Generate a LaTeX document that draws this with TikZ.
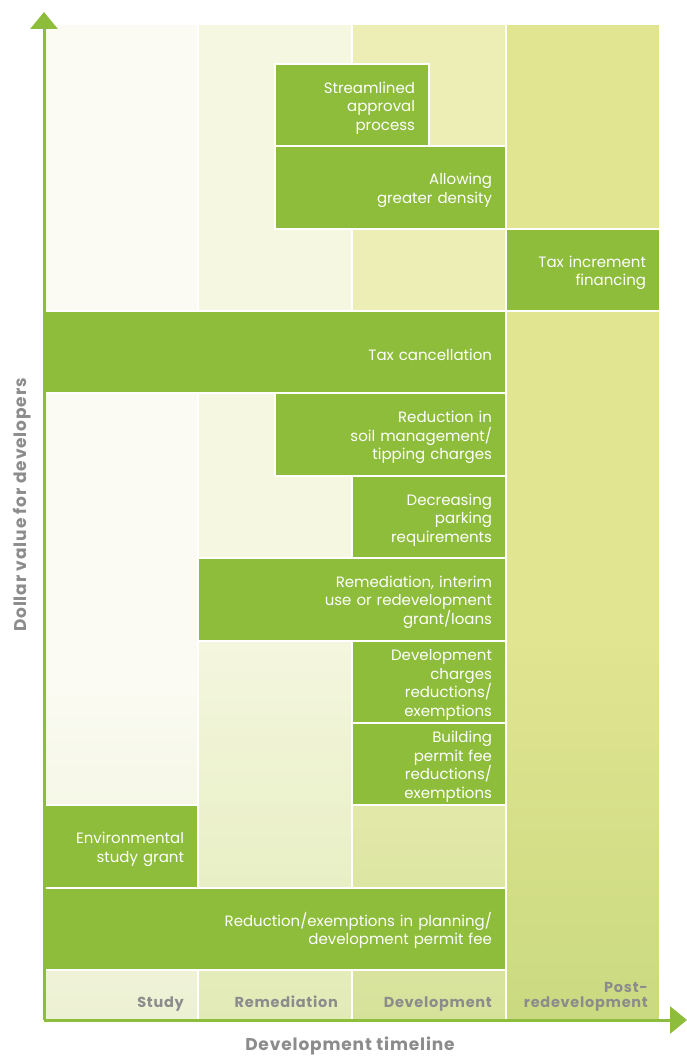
\documentclass[tikz,border=0pt]{standalone}
\usepackage{fontspec}
\setmainfont{Poppins}
\newfontfamily\labelfont[LetterSpace=5]{Poppins}
\usetikzlibrary{arrows.meta}
\definecolor{boxgreen}{HTML}{8DBD3B}
\definecolor{labelgray}{HTML}{8C8C8C}
\definecolor{studybg}{HTML}{FBFBF3}
\definecolor{remedbg}{HTML}{F5F7E1}
\definecolor{devbg}{HTML}{EDEEB6}
\definecolor{postbg}{HTML}{E1E491}
\definecolor{studylow}{HTML}{EDF1D3}
\definecolor{remedlow}{HTML}{E2EBB6}
\definecolor{devlow}{HTML}{D6E29A}
\definecolor{postlow}{HTML}{CADA80}

\begin{document}
\begin{tikzpicture}[x=1pt,y=-1pt,
    column/.style={draw=white,line width=2pt},
    incentive/.style={anchor=north west,fill=boxgreen,draw=white,line width=2pt,
        text=white,align=right,inner xsep=14pt,inner ysep=0pt,outer sep=0pt,
        minimum height=82.36pt,font=\fontsize{15}{18.5}\selectfont,
        execute at begin node={\rule{0pt}{17pt}}},
    phase/.style={anchor=south east,inner sep=0pt,text depth=0pt,text=labelgray,
        align=right,font=\labelfont\bfseries\fontsize{14.5}{15}\selectfont},
    axislabel/.style={text=labelgray,font=\labelfont\bfseries\fontsize{17}{20}\selectfont}]
    \useasboundingbox (0,0) rectangle (687,1057);
    \coordinate (O) at (44,1020);
    \coordinate (Ytop) at (44,12);
    \coordinate (Xend) at (687,1020);

    \fill[studybg] (44,24) rectangle (198,1020);
    \fill[remedbg] (198,24) rectangle (352,1020);
    \fill[devbg] (352,24) rectangle (506,1020);
    \fill[postbg] (506,24) rectangle (660,1020);
    \shade[top color=studybg,bottom color=studylow] (44,680) rectangle (198,1020);
    \shade[top color=remedbg,bottom color=remedlow] (198,620) rectangle (352,1020);
    \shade[top color=devbg,bottom color=devlow] (352,620) rectangle (506,1020);
    \shade[top color=postbg,bottom color=postlow] (506,640) rectangle (660,1020);
    \draw[column] (44,24) rectangle (198,1020);
    \draw[column] (198,24) rectangle (352,1020);
    \draw[column] (352,24) rectangle (506,1020);
    \draw[column] (506,24) rectangle (660,1020);

    \node[incentive,text width=126pt] (stream) at (275,64)
        {Streamlined\\approval\\process};
    \node[incentive,text width=203pt] (density) at (275,146.36)
        {Allowing\\greater density};
    \node[incentive,text width=126pt] (tif) at (506,228.72)
        {Tax increment\\financing};
    \node[incentive,text width=434pt] (taxcan) at (44,311.08)
        {Tax cancellation};
    \node[incentive,text width=203pt] (soil) at (275,393.44)
        {Reduction in\\soil management/\\tipping charges};
    \node[incentive,text width=126pt] (parking) at (352,475.8)
        {Decreasing\\parking\\requirements};
    \node[incentive,text width=280pt] (remed) at (198,558.16)
        {Remediation, interim\\use or redevelopment\\grant/loans};
    \node[incentive,text width=126pt] (devchg) at (352,640.52)
        {Development\\charges\\reductions/\\exemptions};
    \node[incentive,text width=126pt] (bldg) at (352,722.88)
        {Building\\permit fee\\reductions/\\exemptions};
    \node[incentive,text width=126pt] (envstudy) at (44,805.24)
        {Environmental\\study grant};
    \node[incentive,text width=434pt] (planning) at (44,887.6)
        {Reduction/exemptions in planning/\\development permit fee};

    \node[phase] (study) at (184,1008) {Study};
    \node[phase] (remediation) at (338,1008) {Remediation};
    \node[phase] (development) at (492,1008) {Development};
    \node[phase] (post) at (648,1008) {Post-\\redevelopment};

    \draw[boxgreen,line width=3pt,-{Triangle[length=17pt,width=27pt]}] (O) -- (Ytop);
    \draw[boxgreen,line width=3pt,-{Triangle[length=17pt,width=27pt]}] (O) -- (Xend);
    \node[axislabel,rotate=90] (ylabel) at (22,505) {Dollar value for developers};
    \node[axislabel] (xlabel) at (350,1046) {Development timeline};
\end{tikzpicture}
\end{document}
